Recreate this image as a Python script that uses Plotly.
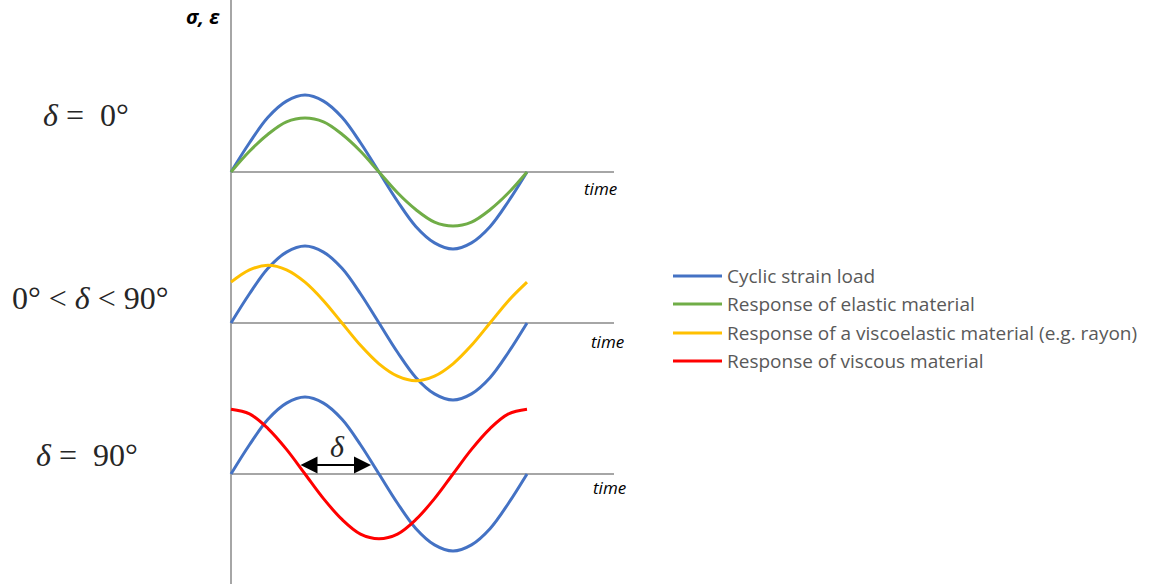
import plotly.graph_objects as go

# ---- data (time in degrees of phase, amplitude relative to strain amplitude) ----
phase_deg = [0, 22.5, 45, 67.5, 90, 112.5, 135, 157.5, 180, 202.5, 225, 247.5, 270, 292.5, 315, 337.5, 360]
strain = [0, 0.38, 0.71, 0.92, 1.0, 0.92, 0.71, 0.38, 0, -0.38, -0.71, -0.92, -1.0, -0.92, -0.71, -0.38, 0]
elastic = [0, 0.27, 0.49, 0.65, 0.70, 0.65, 0.49, 0.27, 0, -0.27, -0.49, -0.65, -0.70, -0.65, -0.49, -0.27, 0]
viscoelastic = [0.53, 0.69, 0.75, 0.69, 0.53, 0.29, 0, -0.29, -0.53, -0.69, -0.75, -0.69, -0.53, -0.29, 0, 0.29, 0.53]
viscous = [0.84, 0.78, 0.59, 0.32, 0, -0.32, -0.59, -0.78, -0.84, -0.78, -0.59, -0.32, 0, 0.32, 0.59, 0.78, 0.84]

legend_labels = ["Cyclic strain load", "Response of elastic material",
                 "Response of a viscoelastic material (e.g. rayon)", "Response of viscous material"]
panel_labels = ["<i>δ</i> = &nbsp;0°", "0° &lt; <i>δ</i> &lt; 90°", "<i>δ</i> = &nbsp;90°"]
axis_label = "<b><i>σ, ε</i></b>"
time_label = "<i>time</i>"
delta_label = "<i>δ</i>"

BLUE, GREEN, YELLOW, RED = "#4472C4", "#70AD47", "#FFC000", "#FF0000"
GRAY = "#A6A6A6"
W, H = 1152, 584

fig = go.Figure()

def add(y, color, yaxis):
    fig.add_trace(go.Scatter(x=phase_deg, y=y, mode="lines", line=dict(color=color, width=3, shape="spline"),
                             xaxis="x", yaxis=yaxis, showlegend=False, hoverinfo="skip"))

add(strain, BLUE, "y")
add(elastic, GREEN, "y")
add(strain, BLUE, "y2")
add(viscoelastic, YELLOW, "y2")
add(strain, BLUE, "y3")
add(viscous, RED, "y3")

# pixel geometry
x0_px, period_px = 231, 296
ppd = period_px / 360.0
xr = [-x0_px / ppd, (W - x0_px) / ppd]
amp_px = 77
A = 1.1
half = amp_px * A
baselines = [172, 323, 474]
def dom(b):
    c = H - b
    return [(c - half) / H, (c + half) / H]

ax_common = dict(range=[-A, A], showgrid=False, zeroline=False, showticklabels=False, ticks="",
                 showline=False, anchor="x", fixedrange=True)
fig.update_layout(
    width=W, height=H, margin=dict(l=0, r=0, t=0, b=0),
    paper_bgcolor="white", plot_bgcolor="rgba(0,0,0,0)",
    xaxis=dict(domain=[0, 1], range=xr, showgrid=False, zeroline=False, showticklabels=False,
               ticks="", showline=False, anchor="y", fixedrange=True),
    yaxis=dict(domain=dom(baselines[0]), **ax_common),
    yaxis2=dict(domain=dom(baselines[1]), **ax_common),
    yaxis3=dict(domain=dom(baselines[2]), **ax_common),
)

shapes = []
# vertical axis
shapes.append(dict(type="line", xref="x", yref="paper", x0=0, x1=0, y0=0, y1=1,
                   line=dict(color=GRAY, width=2), layer="below"))
base_end = (614 - x0_px) / ppd
for yr in ["y", "y2", "y3"]:
    shapes.append(dict(type="line", xref="x", yref=yr, x0=0, x1=base_end, y0=0, y1=0,
                       line=dict(color=GRAY, width=2), layer="below"))

# manual legend
colors = [BLUE, GREEN, YELLOW, RED]
rows_px = [276, 304, 333, 361]
annotations = []
for lab, col, ry in zip(legend_labels, colors, rows_px):
    yp = 1 - ry / H
    shapes.append(dict(type="line", xref="paper", yref="paper", x0=673 / W, x1=722 / W, y0=yp, y1=yp,
                       line=dict(color=col, width=3)))
    annotations.append(dict(xref="paper", yref="paper", x=725 / W, y=yp, text=lab, showarrow=False,
                            xanchor="left", yanchor="middle",
                            font=dict(family="Open Sans", size=19, color="#595959")))

# panel labels
for lab, (cx, cy) in zip(panel_labels, [(86, 115), (90, 298), (87, 455)]):
    annotations.append(dict(xref="paper", yref="paper", x=cx / W, y=1 - cy / H, text=lab, showarrow=False,
                            xanchor="center", yanchor="middle",
                            font=dict(family="Liberation Serif", size=32, color="#262626")))

annotations.append(dict(xref="paper", yref="paper", x=203 / W, y=1 - 16 / H, text=axis_label, showarrow=False,
                        xanchor="center", yanchor="middle", font=dict(family="Open Sans", size=20, color="black")))

for yr, (cx, cy), b in zip(["y", "y2", "y3"], [(600, 188), (607, 341), (609, 487)], baselines):
    annotations.append(dict(xref="x", yref=yr, x=(cx - x0_px) / ppd, y=(b - cy) / amp_px, text=time_label,
                            showarrow=False, xanchor="center", yanchor="middle",
                            font=dict(family="Open Sans", size=17, color="black")))

# phase-shift arrow
arr_y = (474 - 465) / amp_px
annotations.append(dict(xref="x", yref="y3", axref="x", ayref="y3",
                        x=(371 - x0_px) / ppd, y=arr_y, ax=(299 - x0_px) / ppd, ay=arr_y,
                        text="", showarrow=True, arrowhead=2, arrowside="end+start",
                        arrowsize=1.7, arrowwidth=2, arrowcolor="black", standoff=0, startstandoff=0))
annotations.append(dict(xref="x", yref="y3", x=(337 - x0_px) / ppd, y=(474 - 446) / amp_px, text=delta_label,
                        showarrow=False, xanchor="center", yanchor="middle",
                        font=dict(family="Liberation Serif", size=30, color="#262626")))

fig.update_layout(shapes=shapes, annotations=annotations)
fig.write_html("out.html")
